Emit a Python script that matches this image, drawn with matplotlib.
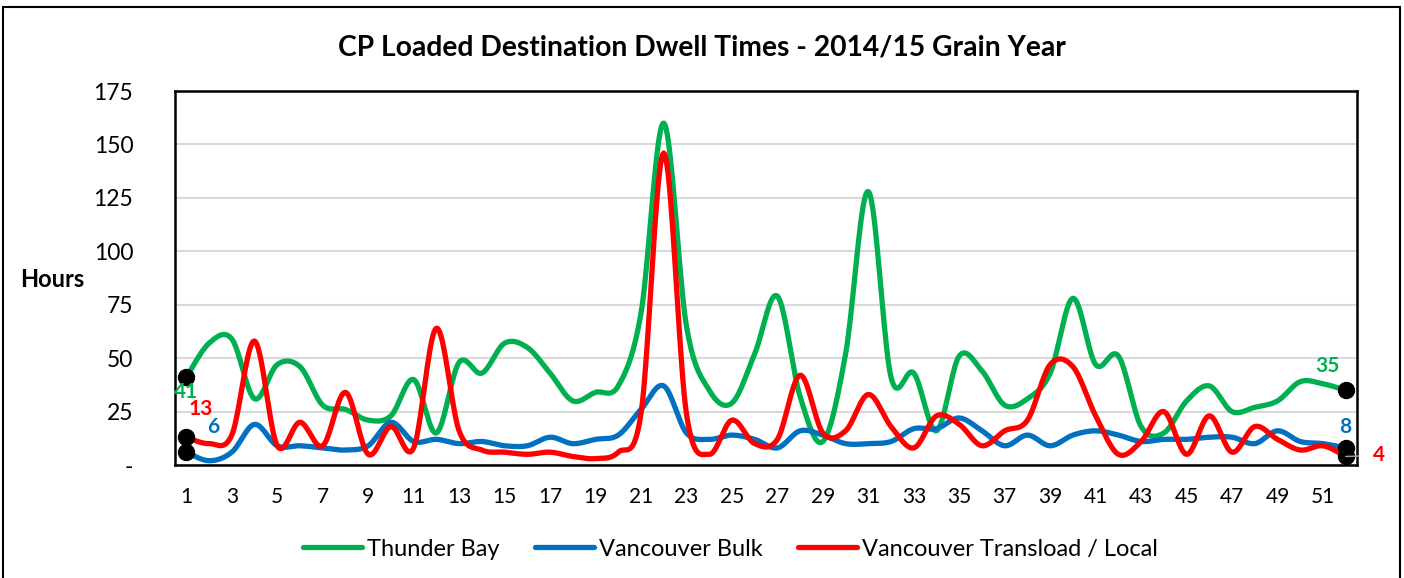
import numpy as np
import matplotlib.pyplot as plt
from matplotlib.patches import Rectangle

plt.rcParams['font.family'] = ['Lato', 'DejaVu Sans']

# 週番号
weeks = np.arange(1, 53)

# 各系列の値 (時間)
thunder_bay = [41, 57, 59, 31, 47, 46, 28, 26, 21, 23, 40, 15, 48,
               43, 57, 55, 43, 30, 34, 37, 71, 160, 65, 35, 29, 52,
               79, 32, 11, 52, 128, 41, 43, 16, 51, 44, 28, 31, 43,
               78, 47, 51, 18, 15, 30, 37, 25, 27, 30, 39, 38, 35]
van_bulk = [6, 2, 6, 19, 9, 9, 8, 7, 9, 20, 11, 12, 10,
            11, 9, 9, 13, 10, 12, 14, 26, 37, 15, 12, 14, 12,
            8, 16, 14, 10, 10, 11, 17, 17, 22, 16, 9, 14, 9,
            14, 16, 14, 11, 12, 12, 13, 13, 10, 16, 11, 10, 8]
van_transload = [13, 10, 14, 58, 9, 20, 9, 34, 5, 18, 8, 64, 16,
                 7, 6, 5, 6, 4, 3, 6, 24, 146, 24, 5, 21, 10,
                 12, 42, 15, 16, 33, 18, 8, 23, 19, 9, 16, 21, 47,
                 46, 23, 5, 11, 25, 5, 23, 6, 18, 12, 7, 9, 4]

series_names = ["Thunder Bay", "Vancouver Bulk", "Vancouver Transload / Local"]
colors = ["#00B050", "#0070C0", "#FF0000"]
ytick_vals = [0, 25, 50, 75, 100, 125, 150, 175]
ytick_labels = ["-", "25", "50", "75", "100", "125", "150", "175"]
xtick_vals = list(range(1, 53, 2))


def smooth(x, y, n=20):
    # Excel風のスムージング (Catmull-Rom)
    x = np.asarray(x, float)
    y = np.asarray(y, float)
    px = np.concatenate([[x[0]], x, [x[-1]]])
    py = np.concatenate([[y[0]], y, [y[-1]]])
    xs, ys = [], []
    t = np.linspace(0, 1, n, endpoint=False)
    for i in range(1, len(px) - 2):
        for arr, out in ((px, xs), (py, ys)):
            p0, p1, p2, p3 = arr[i - 1], arr[i], arr[i + 1], arr[i + 2]
            out.extend(0.5 * ((2 * p1) + (-p0 + p2) * t
                              + (2 * p0 - 5 * p1 + 4 * p2 - p3) * t ** 2
                              + (-p0 + 3 * p1 - 3 * p2 + p3) * t ** 3))
    xs.append(x[-1])
    ys.append(y[-1])
    return np.array(xs), np.array(ys)


fig = plt.figure(figsize=(14.04, 5.78), dpi=100)
ax = fig.add_axes([0.1246, 0.1955, 0.842, 0.647])

for data, name, c in zip([thunder_bay, van_bulk, van_transload], series_names, colors):
    sx, sy = smooth(weeks, data)
    ax.plot(sx, sy, color=c, lw=3.8, label=name, solid_capstyle='round', zorder=3)
    ax.plot([weeks[0], weeks[-1]], [data[0], data[-1]], 'o', color='black',
            ms=11.5, zorder=4)

# 端点のラベル
lab = dict(fontsize=15, fontweight='bold', ha='center', va='center', zorder=5)
ax.text(1, thunder_bay[0] - 7, str(thunder_bay[0]), color=colors[0], **lab)
ax.text(1.65, van_transload[0] + 13, str(van_transload[0]), color=colors[2], **lab)
ax.text(2.2, van_bulk[0] + 12, str(van_bulk[0]), color=colors[1], **lab)
ax.text(51.2, thunder_bay[-1] + 11.5, str(thunder_bay[-1]), color=colors[0], **lab)
ax.text(52, van_bulk[-1] + 10, str(van_bulk[-1]), color=colors[1], **lab)
ax.annotate(str(van_transload[-1]), xy=(52, van_transload[-1]), xytext=(53.45, van_transload[-1] + 0.5),
            color=colors[2], fontsize=15, fontweight='bold', ha='center', va='center',
            arrowprops=dict(arrowstyle='-', color='#A6A6A6', lw=1, shrinkA=8, shrinkB=0),
            annotation_clip=False, zorder=5)

ax.set_xlim(0.5, 52.5)
ax.set_ylim(0, 175)
ax.set_yticks(ytick_vals)
ax.set_yticklabels(ytick_labels, fontsize=16.5)
ax.set_xticks(xtick_vals)
ax.set_xticklabels([str(v) for v in xtick_vals], fontsize=15)
ax.tick_params(length=0, pad=16)
ax.tick_params(axis='y', pad=30)
ax.grid(axis='y', color='#D9D9D9', lw=1.5, zorder=0)
for s in ax.spines.values():
    s.set_linewidth(1.8)
    s.set_color('black')

fig.text(0.5, 0.917, "CP Loaded Destination Dwell Times - 2014/15 Grain Year",
         fontsize=20.3, fontweight='bold', ha='center', va='center')
fig.text(0.037, 0.517, "Hours", fontsize=17, fontweight='bold', ha='center', va='center')

ax.legend(loc='upper center', bbox_to_anchor=(0.47, -0.14), ncol=3, frameon=False,
          fontsize=17, handlelength=2.5, handletextpad=0.2, columnspacing=1.5)

# 外枠
fig.patches.append(Rectangle((0.002, -0.01), 0.995, 0.998, transform=fig.transFigure,
                             fill=False, edgecolor='black', lw=1.5))

fig.savefig("out.png", dpi=100)
